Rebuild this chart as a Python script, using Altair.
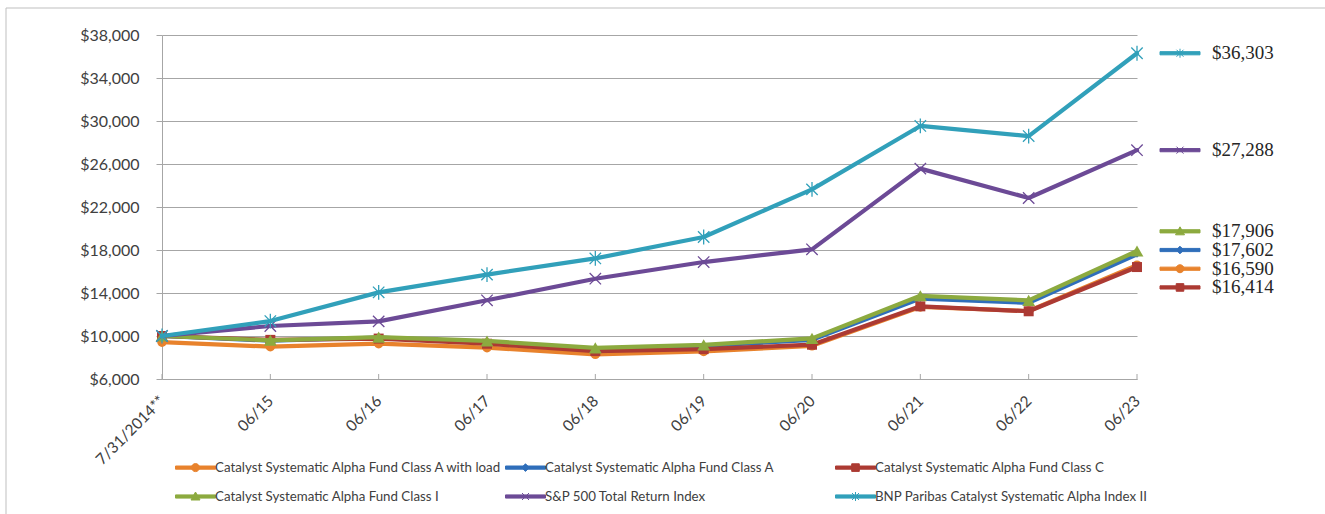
import altair as alt
import pandas as pd

# Growth of $10,000 investment, fiscal year ends
periods = ["7/31/2014**", "06/15", "06/16", "06/17", "06/18", "06/19",
           "06/20", "06/21", "06/22", "06/23"]

series_names = [
    "Catalyst Systematic Alpha Fund Class A with load",
    "Catalyst Systematic Alpha Fund Class A",
    "Catalyst Systematic Alpha Fund Class C",
    "Catalyst Systematic Alpha Fund Class I",
    "S&P 500 Total Return Index",
    "BNP Paribas Catalyst Systematic Alpha Index II",
]

class_a_load = [9425, 9010, 9284, 8916, 8294, 8558, 9086, 12705, 12328, 16590]
class_a = [10000, 9560, 9850, 9460, 8800, 9080, 9640, 13480, 13080, 17602]
class_c = [10000, 9640, 9760, 9280, 8600, 8780, 9190, 12760, 12300, 16414]
class_i = [10000, 9600, 9900, 9540, 8900, 9180, 9780, 13740, 13310, 17906]
sp500 = [10000, 10930, 11360, 13320, 15330, 16880, 18060, 25570, 22840, 27288]
bnp_index = [10000, 11390, 14060, 15710, 17220, 19210, 23640, 29540, 28600, 36303]

all_values = [class_a_load, class_a, class_c, class_i, sp500, bnp_index]

colors = ["#E8822C", "#2F6EBA", "#AC3A33", "#8CAA3F", "#6C4A96", "#31A0BA"]

# chart markers
X_PATH = "M-1,-1L1,1M-1,1L1,-1"
STAR_PATH = "M-1,-1L1,1M-1,1L1,-1M0,-1.3L0,1.3"
marker_specs = [
    dict(shape="circle", size=90, filled=True, strokeWidth=1),
    dict(shape="diamond", size=45, filled=True, strokeWidth=1),
    dict(shape="square", size=100, filled=True, strokeWidth=1),
    dict(shape="triangle-up", size=165, filled=True, strokeWidth=1),
    dict(shape=X_PATH, size=130, filled=False, strokeWidth=1.3),
    dict(shape=STAR_PATH, size=130, filled=False, strokeWidth=1.3),
]

# line-with-marker symbols for the legend and the end labels
BAR = "M-2,-0.16L2,-0.16L2,0.16L-2,0.16Z"
legend_paths = [
    BAR + "M0.4,0A0.4,0.4 0 1,1 -0.4,0A0.4,0.4 0 1,1 0.4,0Z",
    BAR + "M0,-0.38L0.38,0L0,0.38L-0.38,0Z",
    BAR + "M-0.38,-0.38L0.38,-0.38L0.38,0.38L-0.38,0.38Z",
    BAR + "M0,-0.45L0.45,0.35L-0.45,0.35Z",
    BAR + "M-0.35,-0.35L0.35,0.35M-0.35,0.35L0.35,-0.35",
    BAR + "M-0.35,-0.35L0.35,0.35M-0.35,0.35L0.35,-0.35M0,-0.45L0,0.45",
]

GRAY = "#A6A6A6"
TEXT = "#404040"
W, H = 975, 344

y_scale = alt.Scale(domain=[6000, 38000], nice=False, zero=False)
x_scale = alt.Scale(type="point", domain=periods, padding=0)

x_axis = alt.Axis(labelAngle=315, labelAlign="right", labelBaseline="middle",
                  ticks=False, labelPadding=19, domainColor=GRAY, grid=False,
                  labelFont="Lato", labelFontSize=15.5, labelColor=TEXT, title=None)
y_axis = alt.Axis(values=list(range(6000, 38001, 4000)), format="$,.0f",
                  grid=True, gridColor=GRAY, gridWidth=1, domainColor=GRAY,
                  tickColor=GRAY, tickSize=6, labelPadding=17,
                  labelFont="Lato", labelFontSize=16, labelColor=TEXT, title=None)


def spread_labels(values, gap):
    """Push end labels apart so that neighbours are at least `gap` apart."""
    order = sorted(range(len(values)), key=lambda i: -values[i])
    groups = [[i] for i in order]

    def positions(group):
        center = sum(values[i] for i in group) / len(group)
        n = len(group)
        return [center + (n - 1) / 2 * gap - k * gap for k in range(n)]

    merged = True
    while merged:
        merged = False
        for g in range(len(groups) - 1):
            if positions(groups[g])[-1] - positions(groups[g + 1])[0] < gap:
                groups[g] = groups[g] + groups[g + 1]
                del groups[g + 1]
                merged = True
                break
    out = [0.0] * len(values)
    for grp in groups:
        for i, p in zip(grp, positions(grp)):
            out[i] = p
    return out


last_values = [v[-1] for v in all_values]
label_pos = spread_labels(last_values, 1740)

# frame around the whole figure
frame_df = pd.DataFrame({"k": [0]})
frame_left = alt.Chart(frame_df).mark_rule(color="#BFBFBF", strokeWidth=1).encode(
    x=alt.value(-156), y=alt.value(-27), y2=alt.value(480))
frame_top = alt.Chart(frame_df).mark_rule(color="#BFBFBF", strokeWidth=1).encode(
    x=alt.value(-156), x2=alt.value(1170), y=alt.value(-27))

# category ticks drawn inside the plot
tick_df = pd.DataFrame({"period": periods, "value": [6000] * len(periods)})
ticks = alt.Chart(tick_df).mark_rule(color=GRAY, strokeWidth=1).encode(
    x=alt.X("period:N", scale=x_scale, sort=None, axis=x_axis),
    y=alt.Y("value:Q", scale=y_scale, axis=y_axis),
    y2=alt.value(H - 5),
)

layers = [frame_left, frame_top, ticks]

for name, vals, color, spec in zip(series_names, all_values, colors, marker_specs):
    df = pd.DataFrame({"period": periods, "value": vals})
    enc = dict(
        x=alt.X("period:N", scale=x_scale, sort=None, axis=x_axis),
        y=alt.Y("value:Q", scale=y_scale, axis=y_axis),
    )
    line = alt.Chart(df).mark_line(color=color, strokeWidth=4.2, strokeJoin="round",
                                   strokeCap="round").encode(**enc)
    pts = alt.Chart(df).mark_point(color=color, opacity=1, **spec).encode(**enc)
    layers += [line, pts]

end_df = pd.DataFrame({"series": series_names, "value": last_values, "label_y": label_pos})

legend = alt.Legend(title=None, orient="none", legendX=23, legendY=422,
                    direction="horizontal", columns=3, gridAlign="all",
                    columnPadding=1, rowPadding=12, labelOffset=9, labelLimit=400,
                    labelFont="Lato", labelFontSize=13.3, labelColor=TEXT,
                    symbolSize=400, symbolStrokeWidth=1, symbolOpacity=1)

end_symbols = alt.Chart(end_df).mark_point(filled=True, opacity=1, strokeWidth=1, size=400).encode(
    x=alt.value(1018),
    y=alt.Y("label_y:Q", scale=y_scale, axis=y_axis),
    shape=alt.Shape("series:N", scale=alt.Scale(domain=series_names, range=legend_paths),
                    legend=legend),
    fill=alt.Fill("series:N", scale=alt.Scale(domain=series_names, range=colors), legend=legend),
    stroke=alt.Stroke("series:N", scale=alt.Scale(domain=series_names, range=colors),
                      legend=legend),
)

end_text = alt.Chart(end_df).mark_text(align="left", baseline="middle",
                                       font="Liberation Serif", fontSize=19,
                                       color="#262626").encode(
    x=alt.value(1050),
    y=alt.Y("label_y:Q", scale=y_scale, axis=y_axis),
    text=alt.Text("value:Q", format="$,.0f"),
)

layers += [end_symbols, end_text]

chart = alt.layer(*layers).properties(
    width=W, height=H,
    padding={"left": 162, "top": 35, "right": 188, "bottom": 135},
    autosize=alt.AutoSizeParams(type="none"),
    background="white",
).configure_view(stroke=None)

chart.save("out.html", embed_options={"renderer": "svg", "actions": False})
